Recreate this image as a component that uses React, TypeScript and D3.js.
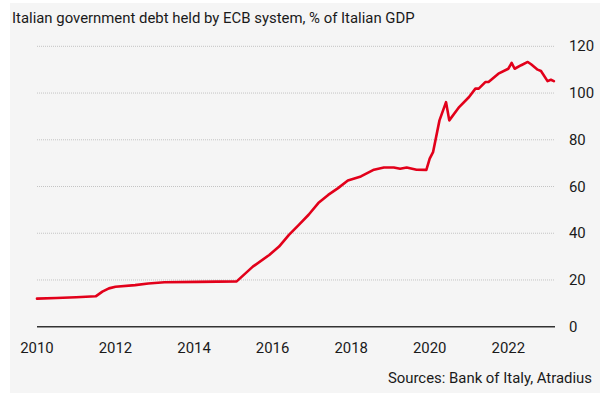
import React from "react";
import * as d3 from "d3";

const dates = [
  "2010-01", "2010-07", "2011-01", "2011-07", "2011-09", "2011-11", "2012-01", "2012-07",
  "2012-11", "2013-04", "2014-02", "2015-02", "2015-07", "2015-12", "2016-03", "2016-06",
  "2016-09", "2016-12", "2017-03", "2017-06", "2017-09", "2017-12", "2018-04", "2018-08",
  "2018-11", "2019-02", "2019-04", "2019-06", "2019-09", "2019-12", "2020-01", "2020-02",
  "2020-04", "2020-06", "2020-07", "2020-10", "2021-01", "2021-03", "2021-04", "2021-06",
  "2021-07", "2021-10", "2022-01", "2022-02", "2022-03", "2022-05", "2022-07", "2022-08",
  "2022-10", "2022-11", "2023-01", "2023-02", "2023-03",
];
const values = [
  12.0, 12.3, 12.6, 13.0, 15.0, 16.4, 17.1, 17.8,
  18.5, 19.0, 19.2, 19.4, 25.7, 30.7, 34.3, 39.3,
  43.6, 47.9, 52.9, 56.4, 59.3, 62.6, 64.3, 67.2,
  68.1, 68.1, 67.6, 68.1, 67.2, 67.1, 71.9, 74.7,
  88.3, 96.1, 88.3, 94.0, 98.3, 101.9, 101.9, 104.7,
  104.7, 108.3, 110.4, 112.9, 110.4, 111.9, 113.3, 112.3,
  110.0, 109.4, 105.1, 105.7, 105.1,
];
const yTicks = [0, 20, 40, 60, 80, 100, 120];
const xTickYears = [2010, 2012, 2014, 2016, 2018, 2020, 2022];
const title = "Italian government debt held by ECB system, % of Italian GDP";
const source = "Sources: Bank of Italy, Atradius";

const W = 600;
const H = 394;
const FONT = "Roboto, 'DejaVu Sans', sans-serif";

export default function App() {
  const parse = d3.timeParse("%Y-%m");
  const data = dates.map((d, i) => ({ date: parse(d) as Date, value: values[i] }));

  const x = d3
    .scaleTime()
    .domain([new Date(2010, 0, 1), new Date(2022, 0, 1)])
    .range([37, 508.3]);
  const y = d3.scaleLinear().domain([0, 120]).range([326.7, 46.3]);

  const line = d3
    .line<{ date: Date; value: number }>()
    .x((d) => x(d.date))
    .y((d) => y(d.value))
    .curve(d3.curveLinear);

  const plotLeft = 37;
  const plotRight = 555;

  return (
    <svg
      width={W}
      height={H}
      style={{ position: "absolute", left: 0, top: 0, display: "block" }}
    >
      <rect x={0} y={0} width={W} height={H} fill="#ffffff" />
      <rect x={10} y={3} width={590} height={390} fill="#f5f5f5" />
      <text x={12} y={22.5} fontFamily={FONT} fontSize={14.9} fill="#1a1a1a">
        {title}
      </text>
      {yTicks.map((t) =>
        t === 0 ? null : (
          <line
            key={"g" + t}
            x1={plotLeft}
            x2={plotRight}
            y1={y(t)}
            y2={y(t)}
            stroke="#c4c4c4"
            strokeWidth={1}
            strokeDasharray="1,1"
          />
        )
      )}
      {yTicks.map((t) => (
        <text
          key={"yl" + t}
          x={569}
          y={y(t) + 5}
          fontFamily={FONT}
          fontSize={14.9}
          fill="#1a1a1a"
        >
          {t}
        </text>
      ))}
      <path
        d={line(data) || ""}
        fill="none"
        stroke="#e2001a"
        strokeWidth={2.6}
        strokeLinejoin="round"
        strokeLinecap="round"
      />
      <line
        x1={plotLeft}
        x2={plotRight}
        y1={y(0)}
        y2={y(0)}
        stroke="#333333"
        strokeWidth={1.6}
      />
      {xTickYears.map((yr) => (
        <text
          key={"xl" + yr}
          x={x(new Date(yr, 0, 1))}
          y={353}
          textAnchor="middle"
          fontFamily={FONT}
          fontSize={14.9}
          fill="#1a1a1a"
        >
          {yr}
        </text>
      ))}
      <text
        x={592}
        y={383}
        textAnchor="end"
        fontFamily={FONT}
        fontSize={14.9}
        fill="#1a1a1a"
      >
        {source}
      </text>
    </svg>
  );
}
